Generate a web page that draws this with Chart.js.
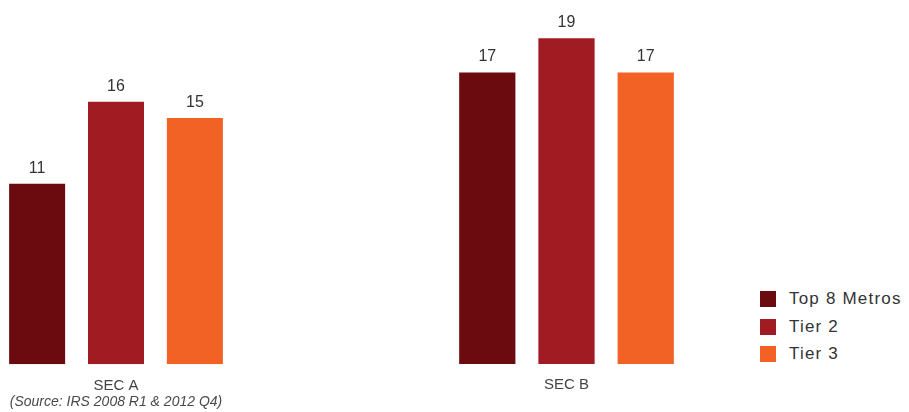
<!DOCTYPE html>
<html>
<head>
<meta charset="utf-8">
<script src="https://cdn.jsdelivr.net/npm/chart.js@4/dist/chart.umd.min.js"></script>
<style>
  html, body { margin: 0; padding: 0; background: #fff; }
  body { width: 909px; height: 412px; position: relative; overflow: hidden; font-family: 'Liberation Sans', Arial, sans-serif; }
  .box { position: absolute; top: 0; height: 412px; }
  #boxA { left: 0; width: 232px; }
  #boxB { left: 450px; width: 233px; }
  #legend { position: absolute; left: 760px; top: 289px; }
  #legend div { height: 27.5px; display: flex; align-items: flex-start; font-size: 17px; letter-spacing: 1.2px; color: #333; }
  #legend span.sw { display: inline-block; width: 16px; height: 16px; margin-right: 13px; margin-top: 2px; }
</style>
</head>
<body>
<div class="box" id="boxA"><canvas id="chartA"></canvas></div>
<div class="box" id="boxB"><canvas id="chartB"></canvas></div>
<div id="legend"></div>
<script>
// series names + colours
const seriesNames = ['Top 8 Metros', 'Tier 2', 'Tier 3'];
const seriesColors = ['#6b0b0f', '#a01b22', '#f26224'];

// values per segment (one chart each)
const secALabels = ['SEC A'];
const secAValues = [11, 16, 15];
const secBLabels = ['SEC B'];
const secBValues = [17, 19, 17];

const sourceNote = '(Source: IRS 2008 R1 & 2012 Q4)';

// draws the number above every bar
const valueLabels = {
    id: 'valueLabels',
    afterDatasetsDraw(chart) {
        const ctx = chart.ctx;
        ctx.save();
        ctx.font = "16px 'Liberation Sans', Arial, sans-serif";
        ctx.fillStyle = '#333333';
        ctx.textAlign = 'center';
        ctx.textBaseline = 'alphabetic';
        chart.data.datasets.forEach((ds, i) => {
            chart.getDatasetMeta(i).data.forEach((bar, j) => {
                ctx.fillText(String(ds.data[j]), bar.x, bar.y - 11);
            });
        });
        ctx.restore();
    }
};

function makeChart(id, labels, values, topPad, withNote) {
    const datasets = seriesNames.map((name, i) => ({
        label: name,
        data: [values[i]],
        backgroundColor: seriesColors[i],
        categoryPercentage: 1.02,
        barPercentage: 0.71
    }));
    return new Chart(document.getElementById(id), {
        type: 'bar',
        data: { labels: labels, datasets: datasets },
        options: {
            responsive: true,
            maintainAspectRatio: false,
            animation: false,
            layout: { padding: { top: topPad, bottom: withNote ? 1 : 6, left: 0, right: 0 } },
            plugins: {
                legend: { display: false },
                tooltip: { enabled: false }
            },
            scales: {
                x: {
                    grid: { display: false, drawTicks: false },
                    border: { display: false },
                    ticks: {
                        padding: withNote ? 13 : 12,
                        color: '#444',
                        font: { size: 15, family: "'Liberation Sans', Arial, sans-serif" }
                    },
                    title: {
                        display: withNote,
                        text: sourceNote,
                        color: '#4a4a4a',
                        // negative top padding pulls the note up under the label
                        padding: { top: -14, bottom: 0 },
                        font: { size: 14, style: 'italic', family: "'Liberation Sans', Arial, sans-serif" }
                    }
                },
                y: {
                    display: false,
                    min: 0,
                    max: 20
                }
            }
        },
        plugins: [valueLabels]
    });
}

makeChart('chartA', secALabels, secAValues, 36, true);
makeChart('chartB', secBLabels, secBValues, 21, false);

// legend
const legend = document.getElementById('legend');
seriesNames.forEach((name, i) => {
    const row = document.createElement('div');
    const sw = document.createElement('span');
    sw.className = 'sw';
    sw.style.background = seriesColors[i];
    row.appendChild(sw);
    row.appendChild(document.createTextNode(name));
    legend.appendChild(row);
});
</script>
</body>
</html>
